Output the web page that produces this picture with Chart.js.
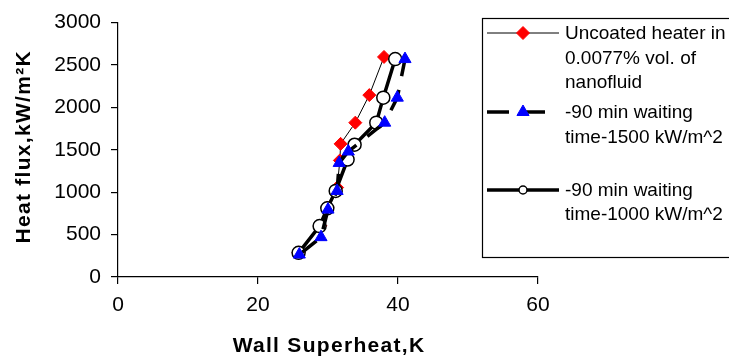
<!DOCTYPE html>
<html><head><meta charset="utf-8">
<script src="https://cdn.jsdelivr.net/npm/chart.js@4/dist/chart.umd.min.js"></script>
<style>html,body{margin:0;padding:0;background:#fff}#wrap{width:729px;height:359px}</style>
</head><body><div id="wrap"><canvas id="c" width="729" height="359"></canvas></div>
<script>
const seriesNames = [
  ["Uncoated heater in", "0.0077% vol. of", "nanofluid"],
  ["-90 min waiting", "time-1500 kW/m^2"],
  ["-90 min waiting", "time-1000 kW/m^2"]
];
const xTitle = 'Wall Superheat,K';
const yTitle = 'Heat flux,kW/m²K';
const uncoatedX = [25.8, 28.9, 29.9, 31.3, 31.7, 31.8, 33.9, 35.9, 38.0];
const uncoatedY = [290, 605, 820, 1055, 1375, 1570, 1820, 2145, 2595];
const wait1500X = [25.9, 29.0, 30.0, 31.3, 31.6, 32.9, 38.1, 39.9, 41.0];
const wait1500Y = [265, 470, 795, 1015, 1345, 1480, 1820, 2115, 2570];
const wait1000X = [25.8, 28.8, 29.9, 31.1, 32.8, 33.8, 36.9, 37.9, 39.6];
const wait1000Y = [285, 600, 810, 1015, 1385, 1560, 1820, 2115, 2570];
const xTicks = [0, 20, 40, 60];
const yTicks = [0, 500, 1000, 1500, 2000, 2500, 3000];

const pts = (xs, ys) => xs.map((x, i) => ({x: x, y: ys[i]}));
const FONT = "'Liberation Sans', Arial, sans-serif";

const legendPlugin = {
  id: 'boxLegend',
  afterDraw(chart) {
    const ctx = chart.ctx;
    const ca = chart.chartArea;
    ctx.save();
    // axis titles
    ctx.fillStyle = '#000';
    ctx.font = 'bold 21px ' + FONT;
    ctx.letterSpacing = '1.3px';
    ctx.textAlign = 'center';
    ctx.textBaseline = 'alphabetic';
    ctx.fillText(xTitle, (ca.left + ca.right) / 2 + 1, 352);
    ctx.save();
    ctx.translate(30, (ca.top + ca.bottom) / 2 - 3);
    ctx.rotate(-Math.PI / 2);
    ctx.fillText(yTitle, 0, 0);
    ctx.restore();
    ctx.letterSpacing = '0px';

    ctx.strokeStyle = '#000';
    ctx.lineWidth = 1.2;
    ctx.strokeRect(482.5, 18.5, 260, 239);
    const rows = [
      {sy: 33, base: [39, 64, 88]},
      {sy: 112, base: [118, 143]},
      {sy: 190, base: [196, 220]}
    ];
    chart.data.datasets.forEach((ds, i) => {
      const r = rows[i];
      ctx.save();
      ctx.strokeStyle = ds.borderColor;
      ctx.lineWidth = ds.borderWidth;
      ctx.setLineDash(ds.borderDash || []);
      ctx.beginPath();
      ctx.moveTo(487, r.sy);
      ctx.lineTo(559, r.sy);
      ctx.stroke();
      ctx.setLineDash([]);
      ctx.fillStyle = ds.pointBackgroundColor;
      ctx.strokeStyle = ds.pointBorderColor;
      ctx.lineWidth = ds.pointBorderWidth;
      Chart.helpers.drawPoint(ctx, {pointStyle: ds.pointStyle, radius: i === 2 ? 4 : ds.pointRadius, rotation: 0, borderWidth: ds.pointBorderWidth}, 523, r.sy);
      ctx.restore();
      ctx.fillStyle = '#000';
      ctx.font = '19px ' + FONT;
      ctx.textBaseline = 'alphabetic';
      ctx.textAlign = 'left';
      seriesNames[i].forEach((t, k) => ctx.fillText(t, 565, r.base[k]));
    });
    ctx.restore();
  }
};

new Chart(document.getElementById('c'), {
  type: 'scatter',
  data: {
    datasets: [
      {label: seriesNames[0].join(' '), data: pts(uncoatedX, uncoatedY), showLine: true,
       borderColor: '#000', borderWidth: 1, pointStyle: 'rectRot', pointRadius: 6.5,
       pointBackgroundColor: '#ff0000', pointBorderColor: '#ff0000', pointBorderWidth: 1, order: 2},
      {label: seriesNames[1].join(' '), data: pts(wait1500X, wait1500Y), showLine: true,
       borderColor: '#000', borderWidth: 3.5, borderDash: [22, 14], pointStyle: 'triangle', pointRadius: 7,
       pointBackgroundColor: '#0000ff', pointBorderColor: '#0000ff', pointBorderWidth: 1, order: 0},
      {label: seriesNames[2].join(' '), data: pts(wait1000X, wait1000Y), showLine: true,
       borderColor: '#000', borderWidth: 3.5, pointStyle: 'circle', pointRadius: 6.5,
       pointBackgroundColor: '#ffffff', pointBorderColor: '#000', pointBorderWidth: 1.5, order: 1}
    ]
  },
  options: {
    responsive: false,
    animation: false,
    layout: {padding: {top: 20, right: 191, left: 0, bottom: 0}},
    plugins: {legend: {display: false}, tooltip: {enabled: false}},
    scales: {
      x: {
        type: 'linear', min: 0, max: 60,
        afterBuildTicks: s => { s.ticks = xTicks.map(v => ({value: v})); },
        afterFit: s => { s.height = 82; },
        border: {display: true, color: '#000', width: 1.2},
        grid: {display: true, drawOnChartArea: false, drawTicks: true, tickLength: 7, color: '#000', lineWidth: 1.2},
        ticks: {color: '#000', font: {family: FONT, size: 21}, padding: 9, callback: v => String(v)}
      },
      y: {
        type: 'linear', min: 0, max: 3000,
        afterBuildTicks: s => { s.ticks = yTicks.map(v => ({value: v})); },
        afterFit: s => { s.width = 118; },
        border: {display: true, color: '#000', width: 1.2},
        grid: {display: true, drawOnChartArea: false, drawTicks: true, tickLength: 7, color: '#000', lineWidth: 1.2},
        ticks: {color: '#000', font: {family: FONT, size: 21}, padding: 10, callback: v => String(v)}
      }
    }
  },
  plugins: [legendPlugin]
});
</script></body></html>
